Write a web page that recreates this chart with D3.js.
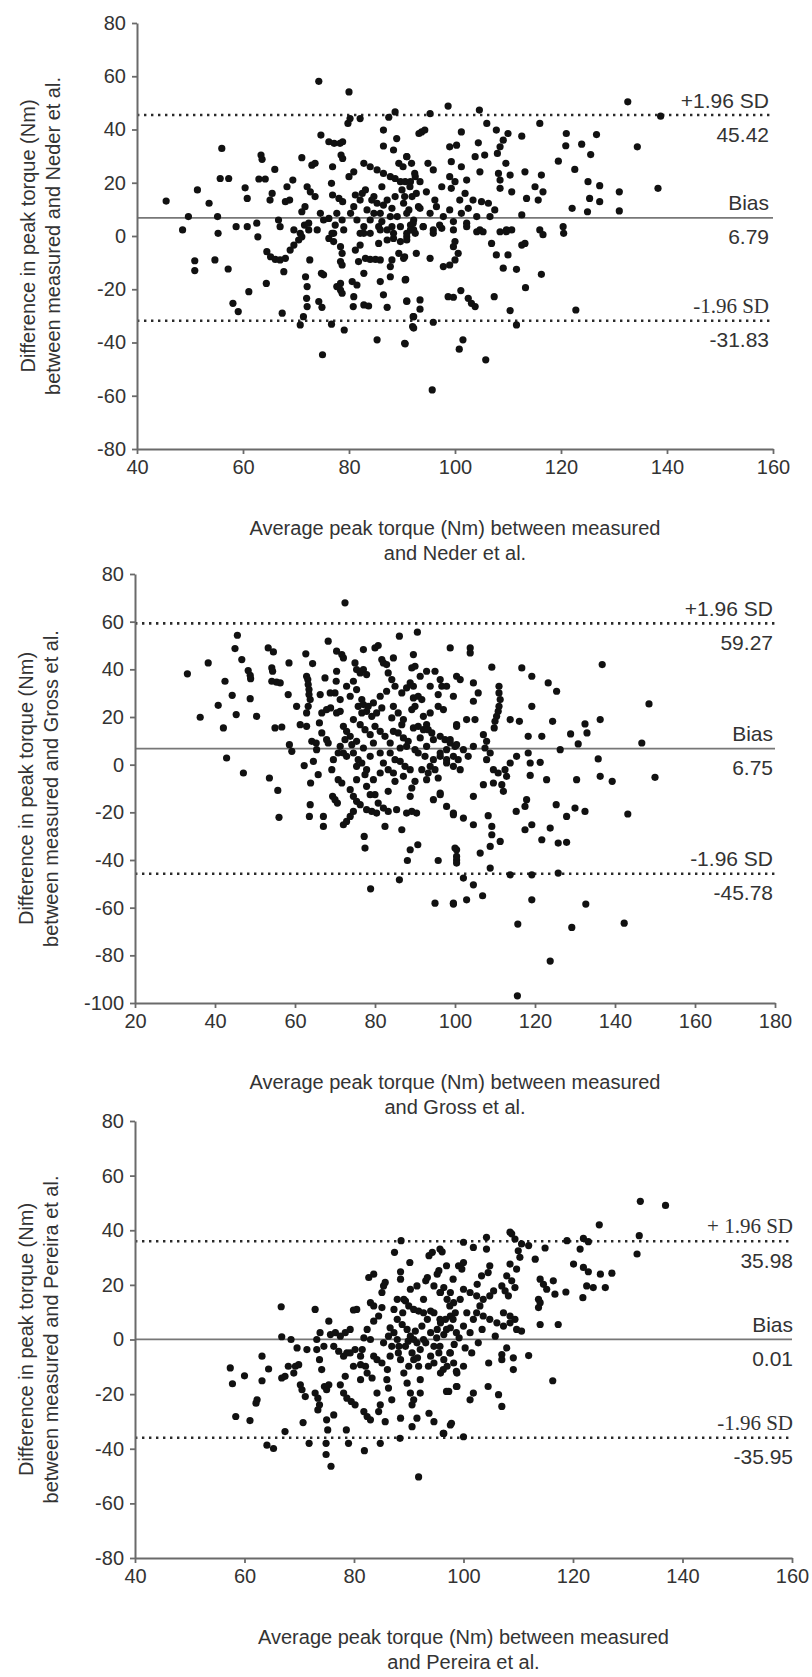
<!DOCTYPE html>
<html>
<head>
<meta charset="utf-8">
<script src="https://cdn.jsdelivr.net/npm/d3@7/dist/d3.min.js"></script>
<style>
  html, body { margin: 0; padding: 0; background: #fff; }
  svg { display: block; }
  text { font-family: "Liberation Sans", Arial, sans-serif; fill: #333; }
</style>
</head>
<body>
<svg id="chart" width="812" height="1677"></svg>
<script>
// Bland–Altman data: [average peak torque (Nm), difference (Nm)]
const nederPoints = [
[45.5,13.1],[48.6,2.3],[49.7,7.3],[51.4,17.3],[53.6,12.3],[55.2,7.3],[56.0,32.9],[55.7,21.6],[57.3,21.6],[58.7,3.5],[60.4,18.1],[60.8,14.1],[60.8,3.5],[62.6,4.8],[63.4,30.4],[63.6,28.8],[63.0,21.4],[64.2,21.4],[65.1,13.5],[65.5,16.0],[66.0,25.0],[66.7,6.0],[67.0,3.5],[68.3,18.5],[69.4,21.0],[68.0,12.9],[68.8,13.5],[71.1,29.4],[71.1,9.1],[71.7,11.0],[72.1,18.5],[72.7,16.6],[73.0,26.6],[73.6,27.3],[74.3,58.1],[73.6,14.8],[74.6,8.5],[75.2,6.0],[74.7,37.9],[76.2,35.4],[77.2,34.8],[78.3,34.8],[78.8,35.4],[76.9,26.0],[76.7,19.8],[76.9,15.4],[78.5,30.4],[78.8,29.1],[80.0,54.1],[79.8,42.3],[80.2,44.1],[82.1,44.1],[80.0,22.3],[80.9,24.1],[78.8,12.9],[82.5,16.0],[82.8,27.3],[84.0,26.0],[85.3,24.8],[86.5,23.5],[87.8,22.3],[88.7,21.6],[89.7,20.4],[90.6,20.4],[91.6,20.4],[92.5,22.3],[86.5,39.8],[86.5,33.8],[88.4,32.3],[89.0,36.6],[87.5,44.6],[88.7,46.6],[89.4,27.3],[90.9,29.8],[93.2,38.5],[86.2,18.5],
[80.9,11.0],[82.1,13.5],[83.4,9.8],[84.7,14.8],[85.3,12.3],[85.9,8.5],[87.2,13.5],[88.1,10.4],[89.1,7.3],[90.3,12.3],[91.3,9.8],[92.2,6.0],[80.3,8.5],[81.5,6.0],[82.8,3.5],[84.0,6.0],[85.6,3.5],[87.2,2.3],[89.7,3.5],[90.9,1.0],
[81.2,15.4],[83.1,17.3],[84.3,13.5],[86.5,11.6],[88.7,14.8],[90.0,17.3],[91.9,14.8],[93.1,11.0],[86.2,5.4],[87.8,7.3],[91.6,4.1],[84.7,8.5],
[69.6,2.3],[70.8,1.0],[72.4,2.3],[74.0,2.3],[77.1,1.0],[79.0,2.3],[82.1,1.0],[84.0,1.0],[85.9,2.3],[88.4,1.0],[92.2,2.3],[76.2,6.6],[77.7,8.5],[78.7,6.0],[77.4,4.1],[78.1,14.1],
[95.3,46.0],[98.7,48.8],[104.6,47.3],[106.0,42.3],[107.8,39.8],[93.7,39.1],[94.3,39.8],[101.2,39.1],[99.0,33.5],[100.3,34.1],[104.4,35.0],[103.8,29.8],[105.6,30.4],[99.3,27.9],[101.2,26.0],[104.7,24.1],[108.5,33.5],[109.1,36.0],[110.0,38.5],[108.0,31.0],[112.6,37.5],[116.0,42.3],[109.6,27.3],[108.2,23.5],[108.5,21.0],[108.5,17.9],[110.4,22.9],[110.7,16.6],[113.2,24.1],[116.3,22.9],[115.1,18.5],[116.6,16.6],[115.7,13.5],[113.5,14.1],[119.5,28.1],[121.0,38.5],[120.9,33.9],[123.9,34.5],[125.6,30.6],[126.7,38.1],[122.6,25.0],[125.1,20.4],[127.3,18.9],[125.4,14.1],[127.3,12.9],[122.1,10.4],[125.0,9.1],[131.0,16.6],[131.0,9.4],[132.6,50.4],[134.4,33.5],[138.3,17.9],[138.8,45.0],[120.4,3.5],[120.5,1.0],[116.0,2.3],
[90.9,29.8],[92.4,23.5],[94.9,27.3],[95.9,24.8],[91.5,18.5],[93.4,20.4],[90.5,14.8],[92.7,16.0],[94.6,16.6],[96.2,13.5],[90.9,8.5],[93.4,10.4],[95.3,8.5],[96.5,11.0],[92.1,4.8],[94.0,3.5],[95.9,2.3],[99.0,22.3],[100.0,20.4],[99.3,17.9],[102.2,21.0],[101.9,16.0],[103.4,13.5],[105.0,12.9],[106.3,12.3],[99.0,9.8],[101.2,8.5],[102.5,10.4],[104.1,7.3],[106.6,7.3],[99.7,5.4],[102.2,4.8],[104.7,2.3],[107.5,9.8],[109.7,2.3],[110.7,2.3],[112.6,7.9],
[90.2,26.0],[91.8,27.3],[97.5,18.5],[97.8,7.3],[97.5,2.9],[100.9,13.5],
[116.6,0.5],[106.9,-2.8],[108.5,1.6],[109.7,1.6],[112.6,-3.4],[113.2,-2.8],[107.8,-7.1],[110.0,-7.1],[109.1,-12.1],[111.6,-12.5],[116.3,-14.4],[113.3,-19.4],[107.4,-22.8],[98.7,-22.8],[99.7,-23.0],[101.1,-20.5],[102.5,-23.4],[103.1,-25.3],[103.8,-26.5],[110.4,-28.0],[122.8,-27.8],[111.6,-33.4],[95.9,-32.4],[92.1,-30.3],[92.0,-34.0],[93.4,-24.0],[93.4,-27.5],[90.9,-24.4],[90.7,-16.3],[90.5,-40.3],[101.5,-39.0],[100.8,-42.5],[105.8,-46.5],[95.7,-57.8],[97.8,-11.5],[99.0,-10.9],[100.0,-9.0],[100.6,-6.5],[99.7,-4.0],[100.0,-2.1],[95.3,-8.4],[92.7,-6.5],[90.5,-7.8],[90.9,-0.3],[92.1,2.3],[94.0,3.5],[95.9,1.0],[97.1,4.1],[99.7,2.3],[102.2,3.5],[104.1,1.6],[105.3,1.6],
[50.9,-9.3],[50.9,-13.0],[54.7,-9.0],[55.3,1.0],[57.2,-12.4],[58.1,-25.3],[59.1,-28.4],[61.1,-20.9],[62.8,-0.3],[64.4,-17.8],[64.5,-5.9],[65.2,-7.8],[66.1,-8.8],[67.0,-9.0],[68.0,-8.4],[67.7,-13.4],[67.4,-29.0],[68.9,-5.3],[69.6,-3.4],[70.5,-1.5],[71.1,-0.3],[71.6,4.1],[72.4,4.8],[72.6,-9.0],[71.8,-15.3],[72.1,-19.0],[72.0,-23.4],[72.1,-26.5],[71.4,-30.3],[70.8,-33.4],[74.8,-14.0],[75.2,-14.6],[74.3,-24.6],[74.9,-26.8],[75.0,-44.6],[76.7,-33.1],[79.1,-35.3],[78.4,-17.8],[78.4,-20.3],[78.7,-21.5],[77.7,-19.0],[77.1,-2.1],[78.4,-4.0],[78.7,-6.5],[78.4,-9.6],[78.7,-10.9],[76.2,-0.9],[76.8,1.0],[80.6,-17.1],[81.5,-18.4],[80.9,-22.8],[80.8,-26.5],[82.8,-25.9],[83.7,-26.3],[82.8,-14.0],[81.8,-9.6],[83.1,-8.4],[84.0,-8.8],[85.0,-8.8],[85.9,-9.0],[81.2,-5.3],[82.1,-3.4],[82.8,1.0],[85.3,-39.0],[85.9,-17.1],[86.5,-22.1],[87.2,-26.8],[87.8,-15.3],[87.8,-11.5],[88.1,-9.0],[89.4,-6.5],[90.6,-16.5],[90.9,-24.6],[90.6,-40.5],[90.3,-8.4],[92.2,-30.3],[92.2,-34.6],[85.6,-2.8],[87.2,-1.5],[88.4,-0.9],[89.7,-2.1],[90.9,-1.5],[92.5,1.0],[88.1,3.5],[91.6,2.3]
];

const grossPoints = [
[33.1,38.1],[36.3,19.9],[38.3,42.7],[40.8,24.9],[42.5,35.0],[42.1,15.4],[42.9,2.8],[44.3,29.1],[45.3,21.0],[45.6,54.3],[45.0,48.7],[46.7,44.1],[47.1,-3.5],[48.3,39.5],[48.8,37.5],[48.9,36.1],[48.8,27.7],[50.4,20.3],[53.3,49.0],[54.6,47.3],[54.2,40.6],[54.4,39.2],[54.2,35.0],[55.4,34.6],[56.3,34.3],[55.0,15.4],[56.7,15.8],[53.6,-5.6],[55.7,-10.8],[56.0,-22.1],[58.5,42.7],[58.6,8.4],[59.2,5.6],[61.3,16.8],[62.9,16.1],[62.7,46.5],[62.9,37.1],[63.2,35.7],[63.3,33.6],[63.5,31.5],[63.5,29.4],[63.8,27.3],[63.3,24.5],[62.9,21.7],[62.3,-0.4],[64.4,42.4],[64.2,9.8],[65.3,9.1],[64.6,1.4],[65.4,6.3],[63.9,-7.7],[63.8,-16.8],[63.6,-21.7],[66.1,17.5],[66.7,21.7],[67.9,23.1],[68.9,23.8],[65.8,-4.2],[68.3,51.8],[67.1,-21.7],[67.1,-25.9],[68.3,9.1],[69.2,-2.1],[69.4,-13.3],[70.0,-14.7],[70.6,-16.1],[70.4,47.6],[71.7,46.2],[72.1,44.8],[70.4,39.2],[70.3,35.0],[70.0,30.1],[70.4,21.7],[71.3,22.4],[72.1,16.1],[72.9,14.0],[73.8,11.9],[71.3,7.7],[72.5,10.5],[74.2,8.4],[75.4,9.8],[72.5,67.9],[72.1,4.9],[72.9,3.5],[70.8,-6.3],[71.7,-7.7],[73.8,-10.5],[74.6,-13.3],[75.4,-15.4],[76.3,-16.8],[72.1,-25.2],[72.9,-23.8],[73.8,-21.7],[74.6,-19.6],[75.0,42.7],[75.4,39.9],[76.3,38.5],[77.1,39.9],[77.9,37.8],[74.6,35.0],[75.4,31.5],[76.7,27.3],
[75.8,24.5],[77.1,25.2],[78.3,24.5],[79.6,25.9],[76.7,21.7],[77.9,22.4],[79.2,20.3],[80.4,21.7],[81.7,23.8],
[77.1,48.3],[80.0,49.0],[80.8,50.0],[76.3,16.8],[77.5,14.7],[78.8,12.6],[80.0,16.1],[81.3,14.0],[82.5,11.9],[75.4,-0.7],[76.7,0.7],[77.9,-2.1],[77.5,-4.2],[80.0,-12.6],[80.8,-16.1],[82.1,-18.2],[83.3,-19.6],[77.9,-18.9],[79.2,-19.6],[80.4,-20.3],[77.3,-30.1],[77.5,-35.0],[78.9,-52.1],[82.5,-25.9],[86.1,53.9],[81.7,44.1],[82.1,42.7],[82.9,42.0],[84.6,44.8],[83.3,38.5],[84.2,35.7],[85.0,32.9],[86.7,30.1],[87.9,32.2],[88.8,34.3],[89.6,46.2],[89.2,40.6],[90.0,41.3],[90.6,55.6],[89.6,28.0],[90.8,28.7],[91.7,27.3],[90.0,24.5],[89.2,23.1],[84.6,14.0],[85.8,13.3],[87.1,11.2],[89.6,15.4],[90.8,16.1],[92.1,14.7],[92.9,16.8],[93.3,14.7],[83.8,4.9],[85.0,2.1],[86.3,1.4],[87.5,-0.7],[88.8,-2.1],[87.9,7.7],[90.0,6.3],[90.8,4.9],[92.5,3.5],[91.7,-2.1],[93.3,-3.5],[93.8,-0.7],[95.0,-2.1],[85.0,-7.0],[90.0,-7.0],[89.2,-9.8],[88.8,-13.3],[87.9,-20.3],[89.2,-19.6],[90.4,-20.3],[85.4,-18.9],[86.7,-27.3],[88.8,-35.7],[88.1,-40.2],[90.7,-33.6],[86.1,-48.3],[95.0,39.2],[96.3,35.7],[95.8,29.4],[96.7,32.9],[98.8,49.0],[100.4,37.1],[95.8,24.5],[97.1,23.1],
[96.3,11.9],[97.5,10.5],[98.8,9.1],[100.0,7.7],[97.9,6.3],[99.6,3.5],[100.8,2.1],[94.6,2.1],[96.3,3.5],[97.9,0.7],
[96.3,-12.6],[97.9,-17.5],[99.6,-21.0],[95.0,-58.1],[99.6,-58.1],[95.8,-40.2],[100.4,-35.7],[100.4,-40.0],[100.4,16.8],
[66.7,13.3],[67.9,10.5],[69.6,2.1],[70.8,4.9],[74.6,4.9],[75.8,2.1],[78.8,3.5],[81.3,4.9],[82.1,0.7],[83.3,-2.1],[75.4,-6.3],[77.9,-9.1],[79.6,-6.3],[81.3,-3.5],[68.8,30.1],[72.9,32.9],[73.8,28.7],[81.3,28.7],[82.9,30.8],[84.6,24.5],[85.8,21.7],[87.1,18.9],[89.6,32.9],[91.3,37.1],[92.9,39.2],[93.8,32.9],[92.1,20.3],[93.8,21.7],[94.6,10.5],[92.9,7.7],
[84.2,19.6],[86.7,16.8],[88.3,9.8],[91.3,11.2],[94.2,13.3],[86.3,7.0],[83.8,9.1],[79.6,9.1],[77.1,7.0],[84.6,-3.5],[87.1,-4.9],[92.9,-6.3],[95.8,-5.6],[78.8,-12.6],[83.3,-11.2],[94.6,-14.7],[74.6,18.9],[71.3,27.3],[66.3,29.4],[67.5,36.4],[60.4,24.5],[58.3,29.4],
[103.8,49.0],[103.8,46.9],[109.2,40.9],[116.7,40.6],[119.2,37.1],[123.3,34.3],[125.4,30.8],[136.8,42.0],[148.5,25.5],[146.7,9.1],[150.0,-5.3],[111.0,32.9],[111.0,30.1],[111.3,27.3],[111.0,24.5],[110.8,22.4],[110.4,20.3],[110.0,18.2],[109.8,15.4],[113.8,18.9],[116.1,18.2],[119.2,24.5],[124.4,18.2],[132.5,17.1],[133.0,13.3],[130.8,8.7],[128.9,12.9],[136.3,18.9],[135.8,2.4],[136.3,-4.9],[139.3,-7.0],[130.4,-6.3],[126.3,6.3],[118.3,11.9],[121.7,11.9],[118.3,4.9],[118.8,0.7],[121.3,1.0],[118.8,-4.5],[122.9,-6.3],[115.4,3.5],[113.8,0.7],[112.5,-2.1],[112.9,-4.9],[111.7,-8.4],[112.1,-11.2],[107.9,9.8],[108.8,4.9],[107.9,2.1],[109.6,-2.1],[110.8,-3.5],[107.1,-8.4],[109.6,-7.7],[104.6,-13.3],[117.9,-14.7],[117.5,-17.5],[115.3,-19.6],[125.3,-16.8],[127.9,-21.7],[130.0,-18.2],[132.5,-19.6],[143.2,-20.7],[108.3,-21.4],[117.5,-27.3],[119.2,-25.2],[123.8,-26.6],[121.7,-31.5],[125.8,-32.9],[127.9,-32.6],[109.2,-25.9],[109.2,-29.4],[111.3,-32.2],[108.8,-34.3],[106.3,-37.1],[100.0,-35.0],[100.4,-38.5],[100.4,-41.3],[108.8,-43.4],[113.8,-46.2],[119.2,-46.2],[125.8,-45.5],[102.1,-47.6],[104.6,-50.4],[106.9,-55.0],[102.9,-56.7],[99.6,-58.5],[119.2,-56.7],[132.7,-58.5],[115.7,-66.9],[129.2,-68.3],[142.3,-66.5],[123.8,-82.4],[115.6,-97.0],
[97.9,32.9],[101.3,35.7],[104.6,34.3],[105.8,30.1],[104.6,26.6],[99.6,28.7],[102.9,18.9],[105.0,18.9],[100.4,16.1],[98.8,10.5],[100.4,8.4],[102.1,6.3],[96.3,4.9],[97.9,2.1],[99.6,-0.7],[101.3,-2.1],[103.3,3.5],[104.6,7.7],[96.3,-11.9],[99.6,-20.3],[102.1,-22.4],[104.6,-25.2],[107.1,12.6],[107.5,7.0]
];

const pereiraPoints = [
[57.4,-10.4],[57.8,-16.2],[58.4,-28.2],[60.0,-13.3],[61.0,-29.7],[62.1,-23.3],[62.3,-22.1],[63.2,-6.1],[63.2,-15.1],[64.4,-10.8],[64.1,-38.7],[65.3,-39.9],[66.7,12.0],[66.8,1.0],[66.8,-14.1],[67.4,-13.5],[67.4,-33.7],[68.0,-9.8],[68.5,0.0],[69.0,-12.3],[69.3,-9.8],[69.9,-9.2],[69.6,-3.1],[70.2,-16.6],[70.5,-18.4],[71.1,-20.9],[70.7,-30.4],[71.4,-3.7],[71.8,-38.0],[72.9,11.0],[72.9,-19.6],[73.4,-21.5],[73.7,-23.9],[73.4,-25.8],[73.2,0.0],[73.8,2.5],[73.2,-3.7],[74.5,-2.5],[73.7,-7.4],[74.1,-11.0],[74.6,-17.2],[75.0,-18.4],[75.4,-16.6],[75.0,-29.4],[75.2,-33.1],[74.9,-38.0],[74.9,-42.1],[75.8,-46.4],[75.4,6.7],[76.3,-27.6],[75.7,1.8],[76.6,2.5],[77.5,1.2],[78.4,2.5],[79.3,3.7],[76.3,-2.5],[77.2,-4.3],[78.1,-6.1],[79.3,-4.9],[80.2,-3.7],[81.2,-6.1],[77.5,-16.6],[78.1,-19.6],[78.7,-21.5],[79.5,-22.7],[80.2,-23.9],[78.4,-13.5],[78.6,-33.1],[79.0,-38.0],[81.9,-40.7],[80.5,11.0],[79.9,10.8],[81.8,0.6],[81.2,-9.2],[82.1,-9.8],[82.4,-12.3],[83.3,-14.1],[81.8,-26.4],[82.4,-28.2],[83.0,-29.4],[82.7,22.7],[83.6,23.9],[83.0,13.5],[83.6,-6.1],[84.2,-7.4],[84.2,-19.6],[84.8,-23.9],[84.5,-26.4],[83.6,6.7],[84.5,8.6],[85.1,11.7],[85.1,17.2],[85.4,19.6],[85.7,20.9],[84.8,-38.0],[85.7,-30.1],[86.3,1.2],[86.9,-2.5],[87.9,0.0],[86.0,-14.7],[86.3,-17.8],[86.9,-22.1],[87.3,11.0],[87.9,14.7],[87.4,31.9],[88.5,24.8],[90.2,28.2],[88.6,36.2],[88.5,-28.8],[88.4,-36.2],
[88.8,5.5],[89.7,3.7],[90.3,1.2],[90.9,0.0],[89.4,-2.5],[90.6,-4.9],[91.5,-1.2],[92.1,-3.7],[92.7,0.0],[88.5,-7.4],[90.0,-9.8],[90.9,-7.4],[89.1,-12.3],
[89.7,-16.0],[90.3,-19.6],[90.9,-22.1],[90.6,-23.9],[90.6,-31.9],[91.5,-28.8],[91.8,-50.3],[89.4,14.1],[90.0,12.3],[90.9,11.0],[91.8,10.4],[92.7,9.8],[94.0,10.4],[92.1,-19.6],[91.8,-9.8],[92.1,-14.7],[93.7,30.7],[94.3,31.9],[93.1,21.5],[93.4,22.7],[93.7,-27.0],[94.6,-30.1],[95.5,25.2],[95.2,23.9],[96.1,32.1],[96.4,19.0],
[94.0,2.5],[95.2,3.7],[95.8,6.1],[96.7,7.4],[97.6,8.6],[98.5,9.8],[94.6,-2.5],[95.5,-4.9],[96.4,-7.4],[97.0,-9.8],[98.2,-8.6],[94.0,-6.1],[94.6,-8.6],[95.8,-12.3],[97.6,-4.9],
[96.4,-34.4],[97.3,-19.0],[97.6,-31.3],[98.8,-12.3],[98.8,-17.2],[97.0,14.7],[98.2,13.5],[97.6,17.2],[99.1,27.0],
[87.3,2.5],[87.9,7.4],[88.2,-2.5],[86.6,-6.1],[85.1,-8.6],[85.4,-1.2],[83.0,0.0],[82.4,3.7],[81.5,-3.7],[79.9,-9.8],[81.2,-14.7],[78.7,-4.9],[83.6,12.3],[90.3,18.4],[91.5,19.6],[92.7,14.7],[88.5,22.1],[89.1,14.7],[94.6,19.6],[95.8,17.2],[93.4,7.4],[94.6,9.8],
[86.6,4.3],[88.1,-4.9],[89.9,-0.6],[91.2,3.1],[93.1,-1.2],[92.4,4.9],[95.1,0.6],[96.4,1.8],[98.3,-1.8],[99.2,0.6],[97.6,4.3],[93.6,-9.8],[91.6,-6.7],[88.9,9.8],[86.1,-11.0],[103.4,3.7],[105.8,1.2],[102.7,-1.2],[104.6,-8.6],[102.5,20.2],
[132.3,50.6],[136.9,49.1],[124.8,42.0],[132.1,38.0],[131.7,31.3],[118.9,36.2],[121.9,37.0],[122.8,35.8],[121.3,33.1],[120.1,27.6],[121.9,26.4],[122.8,24.8],[125.0,23.9],[127.1,24.3],[122.5,19.6],[123.7,19.0],[125.9,19.0],[121.8,15.3],[118.7,17.4],[116.4,21.5],[116.7,16.6],[114.6,20.2],[115.2,18.4],[114.0,22.1],[113.7,14.7],[114.0,13.5],[113.7,11.7],[114.0,5.5],[117.3,5.5],[114.9,33.5],[113.1,29.4],[111.9,34.4],[110.6,35.0],[110.0,32.5],[110.3,30.1],[108.8,38.7],[109.4,36.8],[104.2,37.4],[101.8,33.7],[104.2,33.1],[108.5,27.6],[109.7,25.8],[107.9,23.3],[108.8,21.5],[109.4,19.0],[107.0,19.6],[107.6,17.8],[108.2,16.0],[104.8,27.0],[104.5,24.5],[103.3,23.3],[100.0,28.2],[99.7,25.8],[100.0,18.4],[101.2,17.2],[102.4,16.0],[103.6,14.7],[104.8,16.0],[105.5,17.8],
[103.0,12.3],[102.4,9.8],[103.6,8.6],[104.8,7.4],[106.1,6.1],[107.3,4.9],[108.5,6.1],[109.7,3.7],[107.3,9.8],[108.5,8.6],[109.4,7.4],
[110.6,3.1],[107.9,-3.1],[107.0,-5.5],[107.0,-7.4],[109.1,-6.7],[109.1,-11.0],[111.9,-5.9],[116.3,-15.1],[104.5,-17.2],[106.4,-20.2],[107.0,-24.5],[101.8,-19.6],[101.2,-22.1],[98.7,-17.2],[96.9,-19.0],[100.0,-9.8],[98.7,-11.7],[96.3,-11.0],[101.5,-4.9],[100.3,-3.1],[97.5,-4.9],[95.7,-2.5],[97.8,-30.7],[96.3,-34.4],[100.0,-35.6],
[95.7,33.1],[100.0,35.6],[96.9,27.0],[98.1,22.1],[95.7,17.2],[97.5,12.3],[95.7,7.4],[96.9,3.7],[98.7,2.5],[100.0,4.9],[101.2,2.5],[100.6,9.8],[101.8,7.4],[98.1,7.4],[99.4,14.7],[108.5,39.3]
];

// Limits of agreement: [+1.96 SD, bias, -1.96 SD]
const nederAgreement = [45.42, 6.79, -31.83];
const grossAgreement = [59.27, 6.75, -45.78];
const pereiraAgreement = [35.98, 0.01, -35.95];

// Axis tick values
const nederXTicks = [40, 60, 80, 100, 120, 140, 160];
const nederYTicks = [-80, -60, -40, -20, 0, 20, 40, 60, 80];
const grossXTicks = [20, 40, 60, 80, 100, 120, 140, 160, 180];
const grossYTicks = [-100, -80, -60, -40, -20, 0, 20, 40, 60, 80];
const pereiraXTicks = [40, 60, 80, 100, 120, 140, 160];
const pereiraYTicks = [-80, -60, -40, -20, 0, 20, 40, 60, 80];

const agreementLabels = ["+1.96 SD", "Bias", "-1.96 SD"];
const pereiraAgreementLabels = ["+ 1.96 SD", "Bias", "-1.96 SD"];

// Panel geometry and styling
const panels = [
  { points: nederPoints, limits: nederAgreement, labels: agreementLabels,
    serifLabel: [false, false, true],
    xTicks: nederXTicks, yTicks: nederYTicks,
    left: 137, right: 773, top: 23, bottom: 449, labelDx: -4,
    xTitle: ["Average peak torque (Nm) between measured", "and Neder et al."],
    yTitle: ["Difference in peak torque (Nm)", "between measured and Neder et al."] },
  { points: grossPoints, limits: grossAgreement, labels: agreementLabels,
    serifLabel: [false, false, false],
    xTicks: grossXTicks, yTicks: grossYTicks,
    left: 135, right: 775, top: 574, bottom: 1003, labelDx: -2,
    xTitle: ["Average peak torque (Nm) between measured", "and Gross et al."],
    yTitle: ["Difference in peak torque (Nm)", "between measured and Gross et al."] },
  { points: pereiraPoints, limits: pereiraAgreement, labels: pereiraAgreementLabels,
    serifLabel: [true, false, true],
    xTicks: pereiraXTicks, yTicks: pereiraYTicks,
    left: 135, right: 792, top: 1121, bottom: 1558, labelDx: 1,
    xTitle: ["Average peak torque (Nm) between measured", "and Pereira et al."],
    yTitle: ["Difference in peak torque (Nm)", "between measured and Pereira et al."] }
];

const svg = d3.select("#chart");
const axisColor = "#6a6a6a";
const plainNumber = d => String(d);

panels.forEach(p => {
  const x = d3.scaleLinear()
    .domain(d3.extent(p.xTicks))
    .range([p.left, p.right]);
  const y = d3.scaleLinear()
    .domain(d3.extent(p.yTicks))
    .range([p.bottom, p.top]);

  const g = svg.append("g");

  // agreement lines: dotted limits, solid bias
  const lineStyles = [
    { dash: "2.4,4.6", width: 2.6, color: "#2a2a2a" },
    { dash: null, width: 1.8, color: "#777" },
    { dash: "2.4,4.6", width: 2.6, color: "#2a2a2a" }
  ];
  p.limits.forEach((v, i) => {
    const st = lineStyles[i];
    g.append("line")
      .attr("x1", x(x.domain()[0])).attr("x2", x(x.domain()[1]))
      .attr("y1", y(v)).attr("y2", y(v))
      .attr("stroke", st.color)
      .attr("stroke-width", st.width)
      .attr("stroke-dasharray", st.dash);
  });

  // points
  g.append("g")
    .selectAll("circle")
    .data(p.points)
    .join("circle")
    .attr("cx", d => x(d[0]))
    .attr("cy", d => y(d[1]))
    .attr("r", 3.6)
    .attr("fill", "#111");

  // axes
  const yAxis = g.append("g")
    .attr("transform", `translate(${p.left},0)`)
    .call(d3.axisLeft(y).tickValues(p.yTicks).tickFormat(plainNumber)
      .tickSize(5).tickSizeOuter(0).tickPadding(6));
  const xAxis = g.append("g")
    .attr("transform", `translate(0,${p.bottom})`)
    .call(d3.axisBottom(x).tickValues(p.xTicks).tickFormat(plainNumber)
      .tickSize(5).tickSizeOuter(0).tickPadding(6));
  [yAxis, xAxis].forEach(a => {
    a.select(".domain").attr("stroke", axisColor).attr("stroke-width", 2);
    a.selectAll(".tick line").attr("stroke", axisColor).attr("stroke-width", 1.8);
    a.selectAll(".tick text")
      .attr("fill", "#333")
      .style("font-family", '"Liberation Sans", Arial, sans-serif')
      .style("font-size", "20px");
  });

  // agreement annotations: name above the line, value below
  p.limits.forEach((v, i) => {
    const ax = p.right + p.labelDx;
    g.append("text")
      .attr("x", ax).attr("y", y(v) - 15)
      .attr("text-anchor", "end")
      .attr("dominant-baseline", "central")
      .style("font-family", p.serifLabel[i] ? '"Liberation Serif", "Times New Roman", serif' : '"Liberation Sans", Arial, sans-serif')
      .style("font-size", "21px")
      .attr("fill", p.serifLabel[i] ? "#444" : "#333")
      .text(p.labels[i]);
    g.append("text")
      .attr("x", ax).attr("y", y(v) + 19)
      .attr("text-anchor", "end")
      .attr("dominant-baseline", "central")
      .style("font-size", "21px")
      .text(v.toFixed(2));
  });

  // axis titles
  const cx = (p.left + p.right) / 2;
  p.xTitle.forEach((t, i) => {
    g.append("text")
      .attr("x", cx).attr("y", p.bottom + 79 + i * 25)
      .attr("text-anchor", "middle")
      .attr("dominant-baseline", "central")
      .style("font-size", "20px")
      .text(t);
  });
  const cy = (p.top + p.bottom) / 2;
  p.yTitle.forEach((t, i) => {
    g.append("text")
      .attr("transform", `translate(${p.left - 109 + i * 25},${cy}) rotate(-90)`)
      .attr("text-anchor", "middle")
      .attr("dominant-baseline", "central")
      .style("font-size", "20px")
      .text(t);
  });
});
</script>
</body>
</html>
